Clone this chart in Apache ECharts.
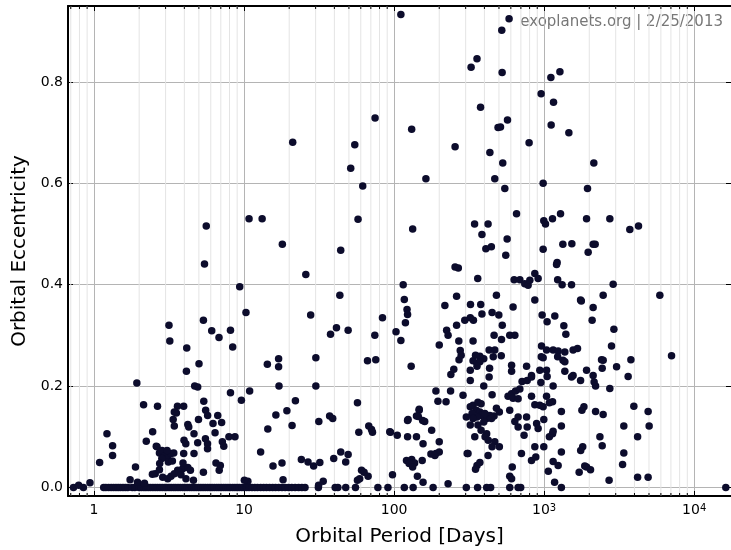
<!DOCTYPE html>
<html>
<head>
<meta charset="utf-8">
<script src="https://cdn.jsdelivr.net/npm/echarts@6/dist/echarts.min.js"></script>
<style>
    html, body { margin: 0; padding: 0; background: #fff; }
    #chart { width: 731px; height: 550px; }
</style>
</head>
<body>
<div id="chart"></div>
<script>
    // orbital period [days] of planets with fixed circular orbits (e = 0)
    var circularPeriods = [
        0.73, 0.85, 1.16, 1.2, 1.25, 1.3, 1.35, 1.4, 1.45, 1.5, 1.56, 1.62, 1.68, 1.8, 1.87,
        2.0, 2.07, 2.15, 2.22, 2.3, 2.38, 2.47, 2.56, 2.65, 2.75, 2.85, 2.95, 3.05, 3.16, 3.27,
        3.39, 3.5, 3.63, 3.76, 3.9, 4.04, 4.18, 4.33, 4.48, 4.64, 4.8, 4.97, 5.15, 5.33, 5.52,
        5.72, 5.92, 6.13, 6.35, 6.58, 6.8, 7.05, 7.3, 7.55, 7.82, 8.1, 8.4, 8.7, 9.0, 9.3, 9.65,
        10.0, 10.4, 10.8, 11.3, 11.8, 12.3, 12.9, 13.5, 14.1, 14.8, 15.5, 16.2, 17, 17.9, 18.8,
        19.8, 20.8, 21.9, 23.1, 24.3, 25.5, 31.3, 40.5, 42.2, 47.6, 55.3, 78, 91, 117, 134, 182,
        303, 360, 414, 440, 590, 671, 698, 1303, 16255
    ];

    // [period, eccentricity], P < 10 days
    var shortPeriod = [
        [0.79, 0.004], [0.94, 0.009], [1.22, 0.106], [1.33, 0.082], [1.33, 0.063], [1.09, 0.049],
        [1.89, 0.04], [1.74, 0.015], [1.95, 0.01], [2.17, 0.008], [1.93, 0.206], [2.14, 0.163],
        [2.65, 0.16], [3.6, 0.16], [3.96, 0.16], [3.54, 0.147], [3.37, 0.134], [3.43, 0.121],
        [3.43, 0.149], [3.16, 0.32], [3.2, 0.289], [5.36, 0.33], [6.09, 0.309], [6.81, 0.296],
        [8.12, 0.31], [8.4, 0.277], [4.15, 0.275], [4.13, 0.229], [5.01, 0.244], [4.69, 0.2],
        [4.91, 0.198], [8.12, 0.187], [9.6, 0.172], [9.36, 0.396], [5.39, 0.17], [5.55, 0.152],
        [5.72, 0.142], [6.68, 0.142], [6.21, 0.126], [7.09, 0.128], [4.22, 0.124], [4.28, 0.119],
        [4.97, 0.134], [4.64, 0.106], [2.46, 0.11], [2.23, 0.091], [4.91, 0.088], [3.98, 0.093],
        [4.09, 0.086], [5.53, 0.096], [5.71, 0.086], [5.71, 0.076], [6.41, 0.108], [7.17, 0.09],
        [7.33, 0.081], [7.93, 0.1], [8.7, 0.1], [2.6, 0.081], [3.96, 0.067], [4.64, 0.067],
        [5.36, 0.03], [6.5, 0.048], [6.83, 0.034], [6.95, 0.043], [2.63, 0.08], [2.73, 0.068],
        [2.84, 0.073], [2.97, 0.063], [3.1, 0.057], [3.26, 0.067], [3.4, 0.068], [2.83, 0.057],
        [3.13, 0.05], [3.33, 0.052], [3.61, 0.034], [2.56, 0.027], [2.73, 0.035], [2.87, 0.02],
        [3.1, 0.017], [3.26, 0.022], [3.43, 0.027], [3.9, 0.037], [4.22, 0.039], [4.39, 0.034],
        [3.92, 0.048], [4.1, 0.017], [4.6, 0.014], [2.74, 0.047], [3.07, 0.073], [2.45, 0.026],
        [3.7, 0.03], [3.8, 0.025], [5.6, 0.516], [5.45, 0.441]
    ];

    // [period, eccentricity], 10 - 100 days
    var midPeriod = [
        [10.8, 0.53], [13.2, 0.53], [21.1, 0.681], [54.7, 0.676], [51.4, 0.63], [61.8, 0.595],
        [57.5, 0.529], [74.7, 0.729], [18, 0.48], [44.1, 0.468], [25.8, 0.42], [10.3, 0.345],
        [10.9, 0.19], [43.5, 0.379], [27.8, 0.34], [83.7, 0.335], [41.3, 0.315], [37.7, 0.302],
        [49.4, 0.31], [74.4, 0.3], [30.1, 0.256], [30.1, 0.2], [17, 0.254], [17, 0.238],
        [14.3, 0.243], [17.1, 0.2], [66.5, 0.25], [75.5, 0.252], [22, 0.171], [19.3, 0.151],
        [16.3, 0.143], [14.4, 0.115], [20.9, 0.122], [31.5, 0.13], [37.2, 0.141], [39, 0.136],
        [57, 0.167], [58.2, 0.109], [67.8, 0.121], [70.7, 0.114], [71.8, 0.109], [94.6, 0.109],
        [12.9, 0.07], [15.6, 0.042], [17.9, 0.048], [24.1, 0.055], [26.7, 0.05], [29.1, 0.042],
        [32, 0.049], [39.6, 0.057], [44.1, 0.07], [49.4, 0.065], [47.6, 0.05], [18.2, 0.015],
        [10.6, 0.012], [31.4, 0.004], [33.7, 0.012], [57, 0.014], [60.7, 0.034], [63.1, 0.03],
        [67.1, 0.022], [59, 0.017], [97.6, 0.025], [10.05, 0.014], [93.6, 0.11]
    ];

    // [period, eccentricity], P > 100 days
    var longPeriod = [
        [111, 0.933], [357, 0.846], [326, 0.829], [377, 0.75], [131, 0.707], [255, 0.672],
        [435, 0.661], [163, 0.609], [133, 0.51], [344, 0.52], [423, 0.52], [385, 0.499],
        [409, 0.471], [445, 0.475], [255, 0.435], [268, 0.433], [361, 0.412], [584, 0.925],
        [522, 0.902], [525, 0.819], [1109, 0.809], [1274, 0.82], [955, 0.777], [1155, 0.76],
        [570, 0.725], [493, 0.71], [512, 0.711], [1114, 0.715], [1462, 0.7], [794, 0.68],
        [530, 0.64], [2144, 0.64], [469, 0.609], [547, 0.59], [985, 0.6], [1946, 0.59],
        [655, 0.54], [995, 0.526], [1021, 0.52], [1137, 0.53], [1286, 0.54], [1918, 0.53],
        [2741, 0.53], [3726, 0.509], [4257, 0.516], [567, 0.49], [555, 0.458], [985, 0.47],
        [1333, 0.48], [1530, 0.481], [1965, 0.464], [2122, 0.48], [2188, 0.48], [1221, 0.444],
        [1210, 0.44], [631, 0.41], [689, 0.41], [743, 0.402], [782, 0.399], [803, 0.409],
        [867, 0.422], [912, 0.412], [1231, 0.41], [1318, 0.4], [1523, 0.4], [115, 0.4],
        [117, 0.371], [122, 0.351], [123, 0.341], [119, 0.325], [103, 0.307], [111, 0.29],
        [200, 0.281], [218, 0.359], [261, 0.377], [224, 0.31], [229, 0.3], [261, 0.32],
        [323, 0.361], [378, 0.361], [385, 0.342], [338, 0.33], [322, 0.335], [296, 0.33],
        [270, 0.289], [336, 0.289], [276, 0.27], [271, 0.252], [239, 0.223], [250, 0.233],
        [322, 0.231], [322, 0.211], [336, 0.25], [357, 0.245], [373, 0.259], [349, 0.261],
        [433, 0.235], [430, 0.218], [280, 0.261], [396, 0.254], [373, 0.248], [357, 0.239],
        [130, 0.239], [430, 0.271], [469, 0.271], [123, 0.132], [141, 0.141], [147, 0.152],
        [155, 0.132], [178, 0.113], [123, 0.1], [156, 0.086], [200, 0.09], [176, 0.066],
        [190, 0.067], [200, 0.07], [311, 0.067], [357, 0.043], [349, 0.036], [373, 0.049],
        [121, 0.053], [131, 0.055], [137, 0.048], [126, 0.047], [154, 0.053], [133, 0.04],
        [143, 0.022], [156, 0.01], [229, 0.007], [190, 0.19], [238, 0.19], [196, 0.17],
        [222, 0.169], [288, 0.182], [396, 0.2], [147, 0.154], [145, 0.14], [124, 0.134],
        [160, 0.13], [105, 0.103], [141, 0.1], [187, 0.063], [322, 0.159], [336, 0.162],
        [362, 0.168], [380, 0.165], [353, 0.152], [373, 0.149], [380, 0.142], [357, 0.139],
        [331, 0.146], [336, 0.136], [414, 0.136], [396, 0.129], [362, 0.123], [380, 0.113],
        [414, 0.106], [404, 0.1], [424, 0.093], [345, 0.1], [322, 0.123], [303, 0.139],
        [307, 0.067], [423, 0.063], [481, 0.379], [867, 0.37], [1749, 0.37], [1770, 0.368],
        [2474, 0.379], [621, 0.356], [2122, 0.355], [2089, 0.33], [450, 0.345], [499, 0.34],
        [526, 0.32], [970, 0.34], [1047, 0.327], [1178, 0.338], [1353, 0.319], [1396, 0.302],
        [464, 0.3], [520, 0.292], [590, 0.3], [638, 0.3], [961, 0.279], [1038, 0.271],
        [1148, 0.271], [1240, 0.269], [1374, 0.267], [1560, 0.271], [1669, 0.274], [458, 0.258],
        [518, 0.26], [957, 0.258], [985, 0.256], [1231, 0.258], [1336, 0.251], [1374, 0.248],
        [607, 0.241], [607, 0.229], [764, 0.239], [936, 0.231], [1047, 0.219], [824, 0.221],
        [1038, 0.231], [1374, 0.229], [1560, 0.221], [1918, 0.231], [2414, 0.252], [2474, 0.251],
        [2122, 0.221], [2438, 0.235], [713, 0.209], [771, 0.211], [824, 0.218], [951, 0.207],
        [1148, 0.2], [1523, 0.218], [1749, 0.211], [2203, 0.2], [2154, 0.208], [575, 0.18],
        [607, 0.185], [645, 0.19], [689, 0.194], [621, 0.176], [671, 0.175], [824, 0.18],
        [1038, 0.18], [1138, 0.169], [1084, 0.167], [867, 0.163], [936, 0.162], [985, 0.159],
        [450, 0.183], [481, 0.156], [503, 0.149], [464, 0.141], [435, 0.142], [403, 0.146],
        [446, 0.136], [590, 0.152], [671, 0.139], [764, 0.139], [638, 0.13], [671, 0.119],
        [735, 0.103], [771, 0.119], [891, 0.126], [912, 0.116], [995, 0.134], [1303, 0.15],
        [1303, 0.121], [1786, 0.152], [1842, 0.159], [2203, 0.15], [2474, 0.144], [1084, 0.1],
        [1138, 0.106], [1148, 0.111], [469, 0.09], [503, 0.08], [450, 0.08], [867, 0.08],
        [995, 0.08], [1303, 0.07], [706, 0.067], [824, 0.053], [880, 0.06], [1808, 0.08],
        [1753, 0.073], [2354, 0.1], [2438, 0.082], [613, 0.04], [590, 0.022], [607, 0.017],
        [1148, 0.051], [1240, 0.043], [1066, 0.032], [1174, 0.01], [1865, 0.042], [1918, 0.04],
        [2038, 0.035], [1712, 0.03], [2884, 0.401], [5904, 0.379], [2917, 0.312], [2813, 0.279],
        [3787, 0.252], [3040, 0.238], [3631, 0.219], [2741, 0.195], [7066, 0.26], [3963, 0.16],
        [4933, 0.15], [3397, 0.121], [5012, 0.121], [4198, 0.1], [3397, 0.068], [3334, 0.045],
        [2710, 0.014], [4198, 0.02], [4933, 0.02]
    ];

    // minor log ticks (2..9 x 10^k) inside the axis range
    var minorTicks = [
        0.7, 0.8, 0.9, 2, 3, 4, 5, 6, 7, 8, 9, 20, 30, 40, 50, 60, 70, 80, 90,
        200, 300, 400, 500, 600, 700, 800, 900, 2000, 3000, 4000, 5000, 6000, 7000, 8000, 9000
    ];

    var xMin = 0.671, xMax = 17600;
    var yMin = -0.017, yMax = 0.95;
    var font = 'DejaVu Sans';

    var points = [];
    circularPeriods.forEach(function (p) { points.push([p, 0]); });
    points = points.concat(shortPeriod, midPeriod, longPeriod);

    var myChart = echarts.init(document.getElementById('chart'));

    var option = {
        animation: false,
        backgroundColor: '#fff',
        grid: { left: 68, top: 6, right: 0, bottom: 54, outerBoundsMode: 'none', containLabel: false },
        xAxis: [
            {
                type: 'log',
                logBase: 10,
                min: xMin,
                max: xMax,
                name: 'Orbital Period [Days]',
                nameLocation: 'middle',
                nameGap: 31,
                nameTextStyle: { fontFamily: font, fontSize: 20, color: '#000' },
                axisLine: { show: true, onZero: false, lineStyle: { color: '#000', width: 2 } },
                axisTick: { show: true, inside: true, length: 5, lineStyle: { color: '#000' } },
                axisLabel: {
                    showMinLabel: false,
                    showMaxLabel: false,
                    margin: 7,
                    fontFamily: font,
                    fontSize: 14,
                    color: '#000',
                    formatter: function (v) {
                        var p = Math.round(Math.log(v) / Math.LN10);
                        if (p <= 2) return String(Math.round(v));
                        return '10{sup|' + p + '}';
                    },
                    rich: {
                        sup: { fontFamily: font, fontSize: 10, verticalAlign: 'top', lineHeight: 10, color: '#000' }
                    }
                },
                splitLine: { show: true, lineStyle: { color: '#b4b4b4', width: 1 } }
            },
            {
                type: 'log',
                logBase: 10,
                min: xMin,
                max: xMax,
                position: 'top',
                axisLine: { show: true, onZero: false, lineStyle: { color: '#000', width: 2 } },
                axisTick: { show: true, inside: true, length: 5, lineStyle: { color: '#000' } },
                axisLabel: { show: false },
                splitLine: { show: false }
            }
        ],
        yAxis: [
            {
                type: 'value',
                min: yMin,
                max: yMax,
                splitNumber: 5,
                name: 'Orbital Eccentricity',
                nameLocation: 'middle',
                nameGap: 38,
                nameTextStyle: { fontFamily: font, fontSize: 20, color: '#000' },
                axisLine: { show: true, onZero: false, lineStyle: { color: '#000', width: 2 } },
                axisTick: { show: true, inside: true, length: 5, lineStyle: { color: '#000' } },
                axisLabel: {
                    showMinLabel: false,
                    showMaxLabel: false,
                    margin: 5,
                    fontFamily: font,
                    fontSize: 14,
                    color: '#000',
                    formatter: function (v) { return v.toFixed(1); }
                },
                splitLine: { show: true, lineStyle: { color: '#b4b4b4', width: 1 } }
            },
            {
                type: 'value',
                min: yMin,
                max: yMax,
                splitNumber: 5,
                position: 'right',
                axisLine: { show: false, onZero: false },
                axisTick: { show: true, inside: true, length: 5, lineStyle: { color: '#000' } },
                axisLabel: { show: false },
                splitLine: { show: false }
            }
        ],
        graphic: [
            {
                type: 'text',
                right: 8,
                top: 15,
                style: {
                    text: 'exoplanets.org | 2/25/2013',
                    font: '15px "DejaVu Sans"',
                    fill: '#777'
                }
            }
        ],
        series: [
            {
                name: 'minor',
                type: 'custom',
                silent: true,
                z: 1,
                clip: false,
                data: minorTicks.map(function (v) { return [v, 0]; }),
                encode: { x: 0, y: 1 },
                renderItem: function (params, api) {
                    var x = api.coord([api.value(0), 0])[0];
                    var top = params.coordSys.y;
                    var bottom = params.coordSys.y + params.coordSys.height;
                    return {
                        type: 'group',
                        children: [
                            { type: 'line', shape: { x1: x, y1: top, x2: x, y2: bottom }, style: { stroke: '#e4e4e4', lineWidth: 1 } },
                            { type: 'line', shape: { x1: x, y1: top, x2: x, y2: top + 3 }, style: { stroke: '#000', lineWidth: 1 } },
                            { type: 'line', shape: { x1: x, y1: bottom - 3, x2: x, y2: bottom }, style: { stroke: '#000', lineWidth: 1 } }
                        ]
                    };
                }
            },
            {
                name: 'planets',
                type: 'scatter',
                z: 3,
                symbol: 'circle',
                symbolSize: 7.5,
                itemStyle: { color: '#0c0c2c', opacity: 1 },
                data: points
            }
        ]
    };

    myChart.setOption(option);
</script>
</body>
</html>
